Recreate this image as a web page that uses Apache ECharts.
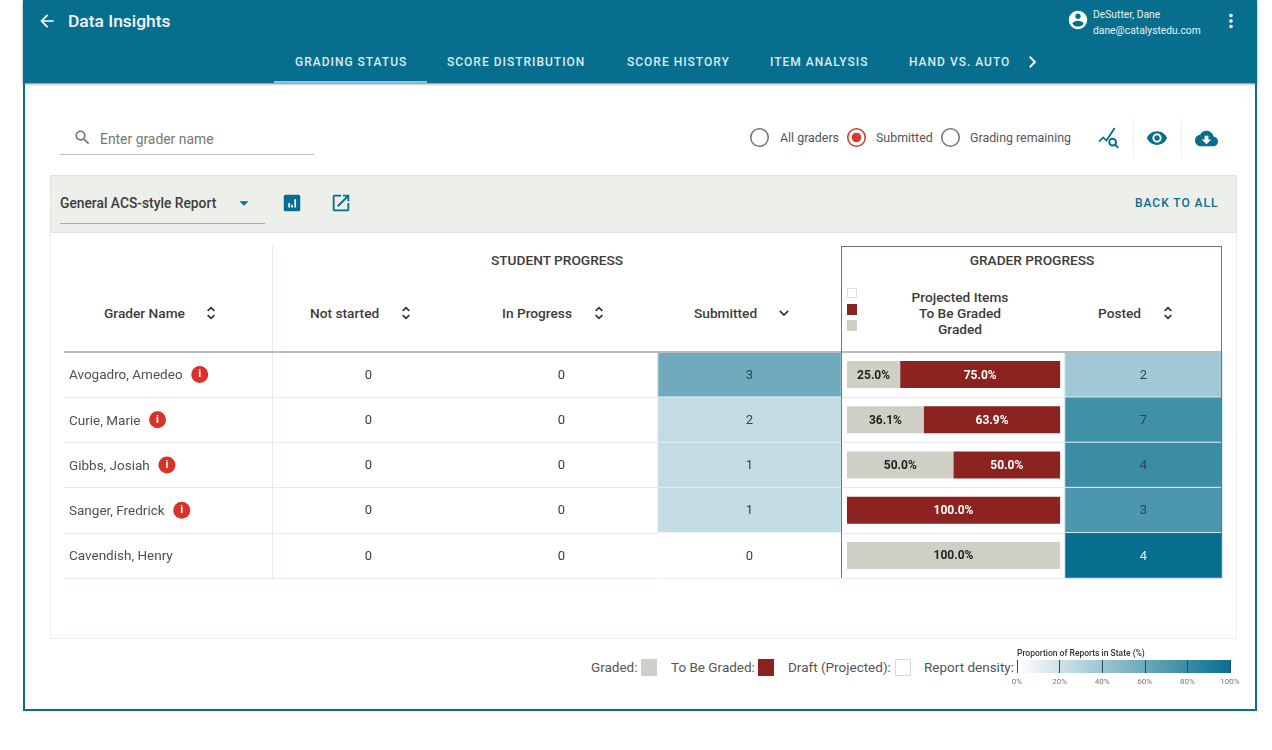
<!DOCTYPE html>
<html>
<head>
<meta charset="utf-8">
<title>Data Insights</title>
<script src="https://cdn.jsdelivr.net/npm/echarts@6/dist/echarts.min.js"></script>
<style>
  html, body { margin: 0; padding: 0; background: #fff; }
  body { width: 1272px; height: 750px; overflow: hidden; position: relative; font-family: Roboto, sans-serif; }
  #chrome, #chart, #overlay { position: absolute; left: 0; top: 0; width: 1272px; height: 750px; }
  #overlay { pointer-events: none; }
  .t { position: absolute; white-space: nowrap; transform: translateY(-50%); }
  .c { transform: translate(-50%, -50%); }
  .b { position: absolute; box-sizing: border-box; }
  svg { position: absolute; }
</style>
</head>
<body>
<div id="chrome"></div>
<div id="chart"></div>
<div id="overlay"></div>
<script>
// 表格数据
const graders = ["Avogadro, Amedeo", "Curie, Marie", "Gibbs, Josiah", "Sanger, Fredrick", "Cavendish, Henry"]
const flagged = [true, true, true, true, false]
const notStarted = [0, 0, 0, 0, 0]
const inProgress = [0, 0, 0, 0, 0]
const submitted = [3, 2, 1, 1, 0]
const posted = [2, 7, 4, 3, 4]
// 单元格颜色深浅 (%)
const submittedDensity = [58, 24, 24, 24, 0]
const postedDensity = [38, 77, 79, 72, 100]
// 进度条 (%)
const gradedPct = [25.0, 36.1, 50.0, 0, 100.0]
const toBeGradedPct = [75.0, 63.9, 50.0, 100.0, 0]
const scaleFull = [100]

const TEAL = "#076f8d"
const RED = "#8b2320"
const GREY = "#cfcfc5"
const INK = "#3c3c3c"
const chrome = document.getElementById("chrome")
const overlay = document.getElementById("overlay")

function box(x, y, w, h, css, parent) {
  const d = document.createElement("div")
  d.className = "b"
  d.style.cssText = `left:${x}px;top:${y}px;width:${w}px;height:${h}px;${css}`
  ;(parent || chrome).appendChild(d)
}
function text(x, y, str, css, center) {
  const d = document.createElement("div")
  d.className = center ? "t c" : "t"
  d.style.cssText = `left:${x}px;top:${y}px;${css}`
  d.textContent = str
  chrome.appendChild(d)
}
function icon(cx, cy, size, inner) {
  const s = document.createElementNS("http://www.w3.org/2000/svg", "svg")
  s.setAttribute("viewBox", "0 0 24 24")
  s.setAttribute("width", size)
  s.setAttribute("height", size)
  s.style.left = cx - size / 2 + "px"
  s.style.top = cy - size / 2 + "px"
  s.innerHTML = inner
  chrome.appendChild(s)
}
function sortIcon(cx, cy) {
  icon(cx, cy, 20, `<path d="M8 9.5L12 5.5L16 9.5M8 14.5L12 18.5L16 14.5" fill="none" stroke="#333" stroke-width="2"/>`)
}

// 顶部栏
box(23, 0, 1234, 83, `background:${TEAL};box-shadow:0 1px 2px rgba(0,0,0,.5)`)
box(23, 83, 2, 628, `background:${TEAL}`)
box(1255, 83, 2, 628, `background:${TEAL}`)
box(23, 709, 1234, 2, `background:${TEAL}`)
box(274, 81, 153, 2, "background:#8cc6da")
icon(47, 21, 20, `<path fill="#fff" d="M20 11H7.83l5.59-5.59L12 4l-8 8 8 8 1.41-1.41L7.83 13H20v-2z"/>`)
text(68, 21, "Data Insights", "font-size:17.4px;font-weight:500;color:#f2f8fa")
icon(1078, 20, 22, `<path fill="#fff" d="M12 2C6.48 2 2 6.48 2 12s4.48 10 10 10 10-4.48 10-10S17.52 2 12 2zm0 3c1.66 0 3 1.34 3 3s-1.34 3-3 3-3-1.34-3-3 1.34-3 3-3zm0 14.2c-2.5 0-4.71-1.28-6-3.22.03-1.99 4-3.08 6-3.08 1.99 0 5.97 1.09 6 3.08-1.29 1.94-3.5 3.22-6 3.22z"/>`)
text(1093, 14, "DeSutter, Dane", "font-size:10.3px;color:#e8f3f6")
text(1093, 30, "dane@catalystedu.com", "font-size:10.3px;color:#e8f3f6")
icon(1231, 21, 22, `<path fill="#fff" d="M12 8a2 2 0 100-4 2 2 0 000 4zm0 2a2 2 0 100 4 2 2 0 000-4zm0 6a2 2 0 100 4 2 2 0 000-4z"/>`)
const tabStyle = "font-size:12px;font-weight:500;letter-spacing:1px;color:#dcebf0"
text(295, 62, "GRADING STATUS", tabStyle)
text(447, 62, "SCORE DISTRIBUTION", tabStyle)
text(627, 62, "SCORE HISTORY", tabStyle)
text(770, 62, "ITEM ANALYSIS", tabStyle)
text(909, 62, "HAND VS. AUTO", tabStyle)
icon(1032, 62, 18, `<path d="M9 5l7 7-7 7" fill="none" stroke="#fff" stroke-width="2.4"/>`)

// 搜索和单选
icon(82, 137, 19, `<path fill="#777" d="M15.5 14h-.79l-.28-.27C15.41 12.59 16 11.11 16 9.5 16 5.91 13.09 3 9.5 3S3 5.91 3 9.5 5.91 16 9.5 16c1.61 0 3.09-.59 4.23-1.57l.27.28v.79l5 4.99L20.49 19l-4.99-5zm-6 0C7.01 14 5 11.99 5 9.5S7.01 5 9.5 5 14 7.01 14 9.5 11.99 14 9.5 14z"/>`)
text(100, 139, "Enter grader name", "font-size:13.9px;color:#777")
box(60, 154, 254, 1, "background:#bdbdbd")
const radioOff = `<circle cx="12" cy="12" r="10" fill="none" stroke="#777" stroke-width="1.8"/>`
const radioOn = `<circle cx="12" cy="12" r="10" fill="none" stroke="#d8392f" stroke-width="1.8"/><circle cx="12" cy="12" r="5.5" fill="#d8392f"/>`
icon(759, 137, 21, radioOff)
icon(856, 137, 21, radioOn)
icon(950, 137, 21, radioOff)
const radioText = "font-size:12.4px;color:#555"
text(780, 137, "All graders", radioText)
text(876, 137, "Submitted", radioText)
text(970, 137, "Grading remaining", radioText)
box(1133, 118, 1, 40, "background:#f0f2f2")
box(1181, 118, 1, 40, "background:#f0f2f2")
icon(1109, 138, 25, `<path d="M2 15l4-4 3 3 8-12" fill="none" stroke="${TEAL}" stroke-width="1.7"/><circle cx="15" cy="15.5" r="3.2" fill="none" stroke="${TEAL}" stroke-width="1.9"/><path d="M17.5 18l3 3" stroke="${TEAL}" stroke-width="1.9"/>`)
icon(1157, 138, 22, `<path fill="${TEAL}" fill-rule="evenodd" d="M12 4.5C7 4.5 2.73 7.61 1 12c1.73 4.39 6 7.5 11 7.5s9.27-3.11 11-7.5c-1.73-4.39-6-7.5-11-7.5zM12 17c-2.76 0-5-2.24-5-5s2.24-5 5-5 5 2.24 5 5-2.24 5-5 5zm0-8c-1.66 0-3 1.34-3 3s1.34 3 3 3 3-1.34 3-3-1.34-3-3-3z"/>`)
icon(1206, 138, 23, `<path fill="${TEAL}" d="M19.35 10.04C18.67 6.59 15.64 4 12 4 9.11 4 6.6 5.64 5.35 8.04 2.34 8.36 0 10.91 0 14c0 3.31 2.69 6 6 6h13c2.76 0 5-2.24 5-5 0-2.64-2.05-4.78-4.65-4.96z"/><path fill="#fff" d="M17 13l-5 5-5-5h3V9h4v4h3z"/>`)

// 报表工具条和面板
box(50, 232, 1187, 407, "border:1px solid #e9eeee;border-top:none")
box(50, 175, 1187, 58, "background:#edefea;border:1px solid #e0e3de")
text(60, 203, "General ACS-style Report", `font-size:13.8px;font-weight:500;color:${INK}`)
box(60, 223, 205, 1, "background:#a9aca8")
icon(244, 203, 22, `<path fill="${TEAL}" d="M7 10l5 5 5-5z"/>`)
icon(292, 203, 22, `<path fill="${TEAL}" d="M5 3h14a2 2 0 012 2v14a2 2 0 01-2 2H5a2 2 0 01-2-2V5a2 2 0 012-2z"/><path fill="#fff" d="M8 12h1.8v5H8zM11.2 14h1.8v3h-1.8zM14.6 8h1.8v9h-1.8z"/>`)
icon(341, 203, 22, `<path fill="${TEAL}" d="M19 19H5V5h7V3H5c-1.11 0-2 .9-2 2v14c0 1.1.89 2 2 2h14c1.1 0 2-.9 2-2v-7h-2v7zM14 3v2h3.59l-9.83 9.83 1.41 1.41L19 6.41V10h2V3h-7z"/>`)
text(1135, 203, "BACK TO ALL", `font-size:12px;font-weight:500;letter-spacing:.95px;color:${TEAL}`)

// 表头
const headStyle = `font-size:13.7px;font-weight:500;color:${INK}`
text(557, 259.5, "STUDENT PROGRESS", headStyle, true)
text(1032, 259.5, "GRADER PROGRESS", headStyle, true)
text(104, 312.5, "Grader Name", headStyle)
sortIcon(211, 313)
text(310, 312.5, "Not started", headStyle)
sortIcon(406, 313)
text(502, 312.5, "In Progress", headStyle)
sortIcon(599, 313)
text(694, 312.5, "Submitted", headStyle)
icon(784, 313, 20, `<path d="M7 9.5L12 14.5L17 9.5" fill="none" stroke="#333" stroke-width="2"/>`)
text(960, 296.5, "Projected Items", headStyle, true)
text(960, 312.5, "To Be Graded", headStyle, true)
text(960, 328.5, "Graded", headStyle, true)
text(1098, 312.5, "Posted", headStyle)
sortIcon(1168, 313)
box(847, 288, 10, 10, "background:#fff;border:1px solid #dedede")
box(847, 304, 10, 11, `background:${RED}`)
box(847, 320, 10, 11, `background:${GREY}`)
box(272, 245, 1, 107, "background:#e6ecee")
box(64, 351, 1158, 2, "background:#b8bcbd", overlay)
box(841, 246, 381, 332, "border:1.5px solid #6e7579;border-bottom:none", overlay)

// 底部图例
const legendText = "font-size:13.5px;color:#555"
text(591, 667, "Graded:", legendText)
box(641, 659, 16, 17, `background:${GREY}`)
text(671, 667, "To Be Graded:", legendText)
box(758, 659, 16, 17, `background:${RED}`)
text(788, 667, "Draft (Projected):", legendText)
box(895, 659, 16, 17, "background:#fff;border:1px solid #d8d8d8")
text(924, 667, "Report density:", legendText)

// 热力格子：[列, 行, 深浅, 数量]
function heatCells(counts, density) {
  return counts.map((n, i) => ({
    value: [0, i, density[i], n],
    label: { color: density[i] >= 90 ? "#d9f1f8" : "#24485a" },
    itemStyle: density[i] > 0 ? {} : { borderWidth: 0 }
  }))
}
const rowLine = { show: true, lineStyle: { color: "#e3ebee", width: 1 } }
const hiddenX = (data) => ({ type: "category", data: data, show: false })
const rowAxis = (extra) => ({
  type: "category",
  data: graders,
  inverse: true,
  axisTick: { show: false },
  axisLine: { show: false },
  axisLabel: { show: false },
  splitLine: rowLine,
  ...extra
})
const heatSeries = (idx, data) => ({
  type: "heatmap",
  xAxisIndex: idx,
  yAxisIndex: idx,
  data: data,
  encode: { x: 0, y: 1, value: 2 },
  itemStyle: { borderColor: "#dfeef3", borderWidth: 1 },
  label: {
    show: true,
    fontFamily: "Roboto",
    fontSize: 13,
    offset: [0, 1],
    formatter: p => p.value[3]
  }
})
const zeroSeries = (col, values) => ({
  type: "scatter",
  xAxisIndex: 1,
  yAxisIndex: 1,
  symbolSize: 1,
  itemStyle: { color: "transparent", opacity: 1 },
  data: values.map((v, i) => [col, i, v]),
  label: {
    show: true,
    position: "inside",
    color: INK,
    fontFamily: "Roboto",
    fontSize: 13,
    offset: [0, 1],
    formatter: p => p.value[2]
  }
})
const barSeries = (name, values, color, labelColor) => ({
  name: name,
  type: "bar",
  stack: "progress",
  xAxisIndex: 3,
  yAxisIndex: 3,
  barWidth: 27,
  data: values,
  itemStyle: { color: color },
  label: {
    show: true,
    position: "inside",
    color: labelColor,
    fontFamily: "Roboto",
    fontWeight: "bold",
    fontSize: 12,
    offset: [0, 1],
    formatter: p => (p.value > 0 ? p.value.toFixed(1) + "%" : "")
  }
})

const option = {
  animation: false,
  title: {
    text: "Proportion of Reports in State (%)",
    left: 1017,
    top: 649,
    padding: 0,
    textStyle: { fontFamily: "Roboto", fontSize: 8.5, fontWeight: 500, color: "#333" }
  },
  visualMap: {
    show: false,
    min: 0,
    max: 100,
    dimension: 2,
    seriesIndex: [2, 3],
    inRange: { color: ["#ffffff", TEAL] }
  },
  grid: [
    { left: 64, width: 208, top: 352, height: 226 },
    { left: 272, width: 386, top: 352, height: 226 },
    { left: 658, width: 183, top: 352, height: 226 },
    { left: 841, width: 224, top: 352, height: 226 },
    { left: 1065, width: 157, top: 352, height: 226 },
    { left: 1017, width: 213, top: 660, height: 13 }
  ],
  xAxis: [
    { gridIndex: 0, type: "value", show: false },
    { gridIndex: 1, ...hiddenX(["Not started", "In Progress"]) },
    { gridIndex: 2, ...hiddenX(["Submitted"]) },
    { gridIndex: 3, type: "value", show: false, min: -2.8, max: 102.3 },
    { gridIndex: 4, ...hiddenX(["Posted"]) },
    {
      gridIndex: 5,
      type: "value",
      min: 0,
      max: 100,
      interval: 20,
      position: "bottom",
      axisLine: { show: false },
      splitLine: { show: false },
      axisTick: { show: true, inside: true, length: 13, lineStyle: { color: "#1f4f60" } },
      axisLabel: { color: "#777", fontFamily: "Roboto", fontSize: 8, margin: 5, formatter: "{value}%" },
      z: 5
    }
  ],
  yAxis: [
    rowAxis({
      gridIndex: 0,
      axisLabel: {
        show: true,
        inside: true,
        margin: 5,
        formatter: (name, i) => (flagged[i] ? `{n|${name}}  {i|i}` : `{m|${name}}`),
        rich: {
          n: { fontFamily: "Roboto", fontSize: 13.5, color: "#505050", padding: [3, 2, 0, 0] },
          m: { fontFamily: "Roboto", fontSize: 13.5, color: "#505050", padding: [3, 0, 0, 0] },
          i: {
            backgroundColor: "#d8322a",
            color: "#fff",
            fontFamily: "Roboto",
            fontWeight: "bold",
            fontSize: 11,
            width: 17,
            height: 17,
            lineHeight: 17,
            borderRadius: 9,
            align: "center",
            verticalAlign: "top"
          }
        }
      }
    }),
    rowAxis({ gridIndex: 1, axisLine: { show: true, lineStyle: { color: "#e3ebee" } } }),
    rowAxis({ gridIndex: 2 }),
    rowAxis({ gridIndex: 3 }),
    rowAxis({ gridIndex: 4 }),
    { gridIndex: 5, type: "category", data: ["density"], show: false }
  ],
  series: [
    zeroSeries(0, notStarted),
    zeroSeries(1, inProgress),
    heatSeries(2, heatCells(submitted, submittedDensity)),
    heatSeries(4, heatCells(posted, postedDensity)),
    barSeries("Graded", gradedPct, GREY, "#222"),
    barSeries("To Be Graded", toBeGradedPct, RED, "#fff"),
    {
      type: "bar",
      xAxisIndex: 5,
      yAxisIndex: 5,
      barWidth: "100%",
      data: scaleFull,
      z: 1,
      itemStyle: {
        color: new echarts.graphic.LinearGradient(0, 0, 1, 0, [
          { offset: 0, color: "#ffffff" },
          { offset: 1, color: TEAL }
        ])
      }
    }
  ]
}
const chartEl = echarts.init(document.getElementById("chart"))
chartEl.setOption(option)
</script>
</body>
</html>
